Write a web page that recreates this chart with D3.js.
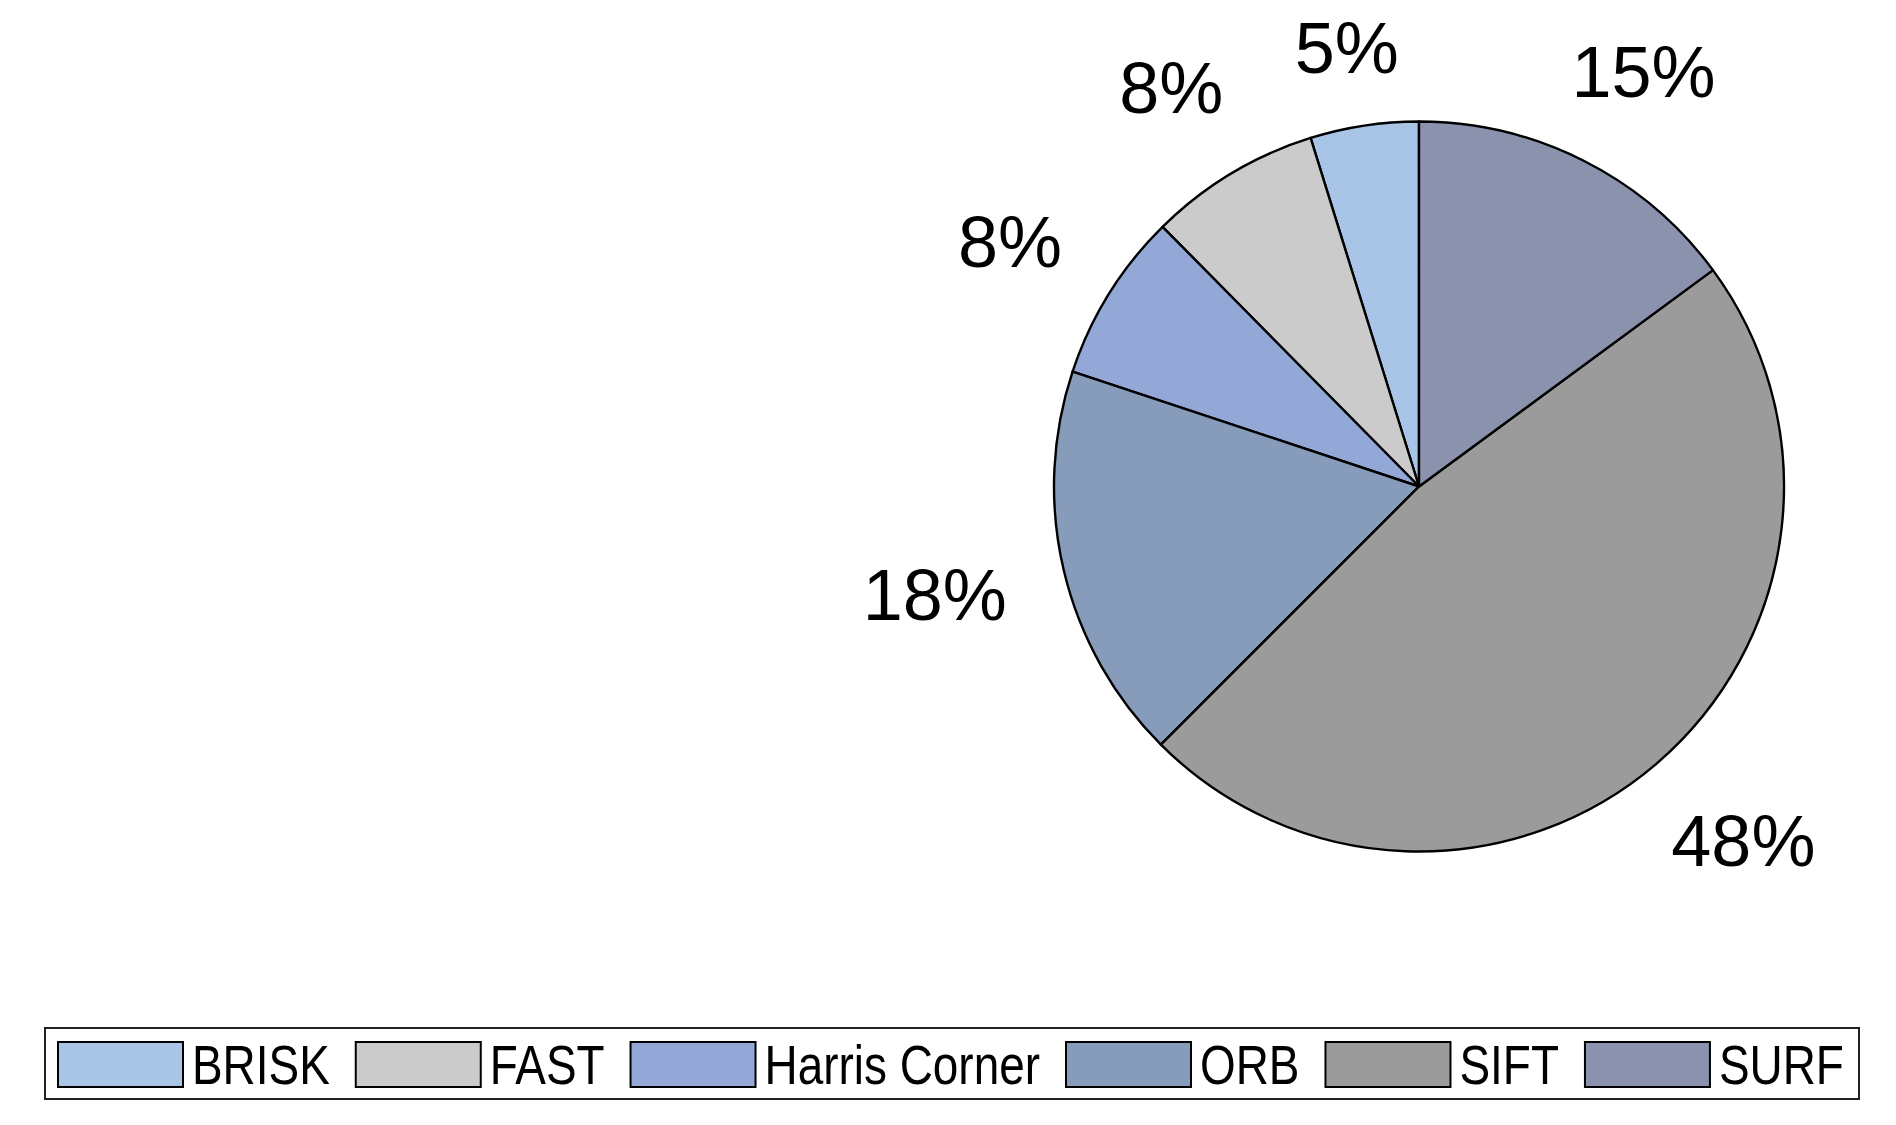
<!DOCTYPE html>
<html>
<head>
<meta charset="utf-8">
<script src="https://cdn.jsdelivr.net/npm/d3@7"></script>
<style>
  html, body { margin: 0; padding: 0; background: #ffffff; }
  svg { display: block; }
</style>
</head>
<body>
<svg id="chart" width="1896" height="1125"></svg>
<script>
// ---- data ----
const categories = ["BRISK", "FAST", "Harris Corner", "ORB", "SIFT", "SURF"];
const shares = [4.8, 7.6, 7.5, 17.6, 47.6, 14.9];
const sliceColors = ["#A8C5E8", "#CBCBCB", "#94A8D8", "#879BBA", "#9B9B9B", "#8A92AD"];

// ---- layout ----
const W = 1896, H = 1125;
const cx = 1419, cy = 486.5, radius = 365;
const labelGap = 440;
const svg = d3.select("#chart");

const data = categories.map((c, i) => ({ name: c, value: shares[i] }));
const color = d3.scaleOrdinal().domain(categories).range(sliceColors);

const pie = d3.pie().value(d => d.value).sort(null).startAngle(0).endAngle(-2 * Math.PI);
const arcs = pie(data);
const arc = d3.arc().innerRadius(0).outerRadius(radius);

const g = svg.append("g").attr("transform", `translate(${cx},${cy})`);
g.selectAll("path.slice").data(arcs).enter().append("path")
  .attr("class", "slice")
  .attr("d", arc)
  .attr("fill", d => color(d.data.name))
  .attr("stroke", "#000")
  .attr("stroke-width", 2.4)
  .attr("stroke-linejoin", "round");

// percentage labels, placed outside the slice end and kept inside the page
const labelFont = 72, capH = 52.5, minTop = 20;
const labels = g.selectAll("text.pct").data(arcs).enter().append("text")
  .attr("class", "pct")
  .attr("font-family", "'Liberation Sans', Arial, Helvetica, sans-serif")
  .attr("font-size", labelFont)
  .attr("fill", "#000")
  .attr("text-anchor", "middle")
  .text(d => Math.round(d.data.value) + "%");

labels.each(function(d) {
  const w = this.getComputedTextLength();
  const mid = (d.startAngle + d.endAngle) / 2;
  const ux = Math.sin(mid), uy = -Math.cos(mid);
  const x = ux * (labelGap + 0.8 * w / 2);
  let y = uy * (labelGap + capH / 2);
  if (cy + y - capH / 2 < minTop) y = minTop - cy + capH / 2;
  d3.select(this).attr("x", x).attr("y", y + capH / 2);
});

// ---- legend ----
const legend = svg.append("g");
const lgTop = 1028, lgBottom = 1099, lgLeft = 45, lgRight = 1859;
legend.append("rect")
  .attr("x", lgLeft).attr("y", lgTop)
  .attr("width", lgRight - lgLeft).attr("height", lgBottom - lgTop)
  .attr("fill", "#fff").attr("stroke", "#222").attr("stroke-width", 2);

const swW = 125, swH = 45, swY = 1042, textGap = 9, itemGap = 26, narrow = 0.82;
let xPos = 58;
categories.forEach((c) => {
  legend.append("rect")
    .attr("x", xPos).attr("y", swY)
    .attr("width", swW).attr("height", swH)
    .attr("fill", color(c)).attr("stroke", "#000").attr("stroke-width", 2);
  const t = legend.append("text")
    .attr("transform", `translate(${xPos + swW + textGap},1084) scale(${narrow},1)`)
    .attr("font-family", "'Liberation Sans', Arial, Helvetica, sans-serif")
    .attr("font-size", 56)
    .attr("fill", "#000")
    .text(c);
  const tw = t.node().getComputedTextLength() * narrow;
  xPos = xPos + swW + textGap + tw + itemGap;
});
</script>
</body>
</html>
